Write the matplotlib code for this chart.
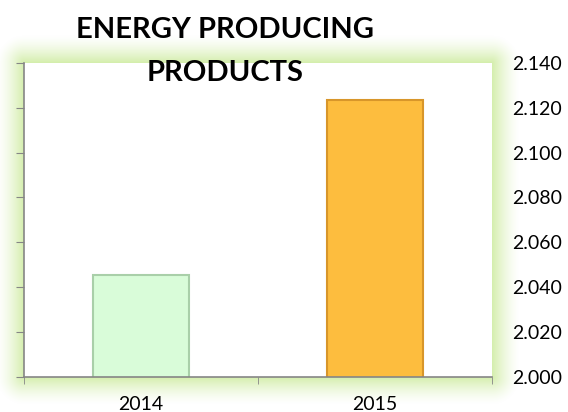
import numpy as np
import matplotlib.pyplot as plt

years = ["2014", "2015"]
values = [2.0456, 2.1236]
bar_colors = ["#d9fcd9", "#fdbd3e"]
edge_colors = ["#a9cfa9", "#d8962a"]
y_ticks = [2.000, 2.020, 2.040, 2.060, 2.080, 2.100, 2.120, 2.140]

W, H = 568, 412
fig = plt.figure(figsize=(W / 100, H / 100), dpi=100)

# green glow around the plot area
L, R, T, B = 24, 492, 62.7, 377
yy, xx = np.mgrid[0:H, 0:W] + 0.5
dx = np.maximum(np.maximum(L - xx, xx - R), 0)
dy = np.maximum(np.maximum(T - yy, yy - B), 0)
d = np.hypot(dx, dy)
alpha = np.clip(1 - d / 28, 0, 1) ** 1.5
glow = np.zeros((H, W, 4))
glow[..., 0] = 212 / 255
glow[..., 1] = 238 / 255
glow[..., 2] = 172 / 255
glow[..., 3] = alpha
bg = fig.add_axes([0, 0, 1, 1], zorder=0)
bg.imshow(glow, extent=[0, W, H, 0], interpolation="bilinear")
bg.set_xlim(0, W)
bg.set_ylim(H, 0)
bg.axis("off")

ax = fig.add_axes([L / W, 1 - B / H, (R - L) / W, (B - T) / H], zorder=1)
x = np.arange(len(years))
ax.bar(x, values, width=0.41, color=bar_colors, edgecolor=edge_colors, linewidth=1.5)
ax.set_xlim(-0.5, 1.5)
ax.set_ylim(2.000, 2.140)
ax.set_yticks(y_ticks)
ax.set_yticklabels(["%.3f" % v for v in y_ticks])
ax.set_xticks(x)
ax.set_xticklabels(years)
ax.set_xticks([-0.5, 0.5, 1.5], minor=True)

for s in ["top", "right"]:
    ax.spines[s].set_visible(False)
for s in ["left", "bottom"]:
    ax.spines[s].set_color("#868686")
    ax.spines[s].set_linewidth(1.2)

ax.tick_params(axis="y", which="both", left=True, right=False, labelleft=False,
               labelright=True, length=6, color="#868686", pad=8.5, labelsize=14)
ax.tick_params(axis="x", which="major", length=0, pad=14, labelsize=14)
ax.tick_params(axis="x", which="minor", length=5, color="#868686")
for lab in ax.get_xticklabels() + ax.get_yticklabels():
    lab.set_fontfamily("Lato")

fig.text(225 / W, 1 - 17 / H, "ENERGY PRODUCING\nPRODUCTS", ha="center", va="top",
         fontsize=21, fontweight="bold", family="Lato", linespacing=1.8)

fig.savefig("out.png", dpi=100)
